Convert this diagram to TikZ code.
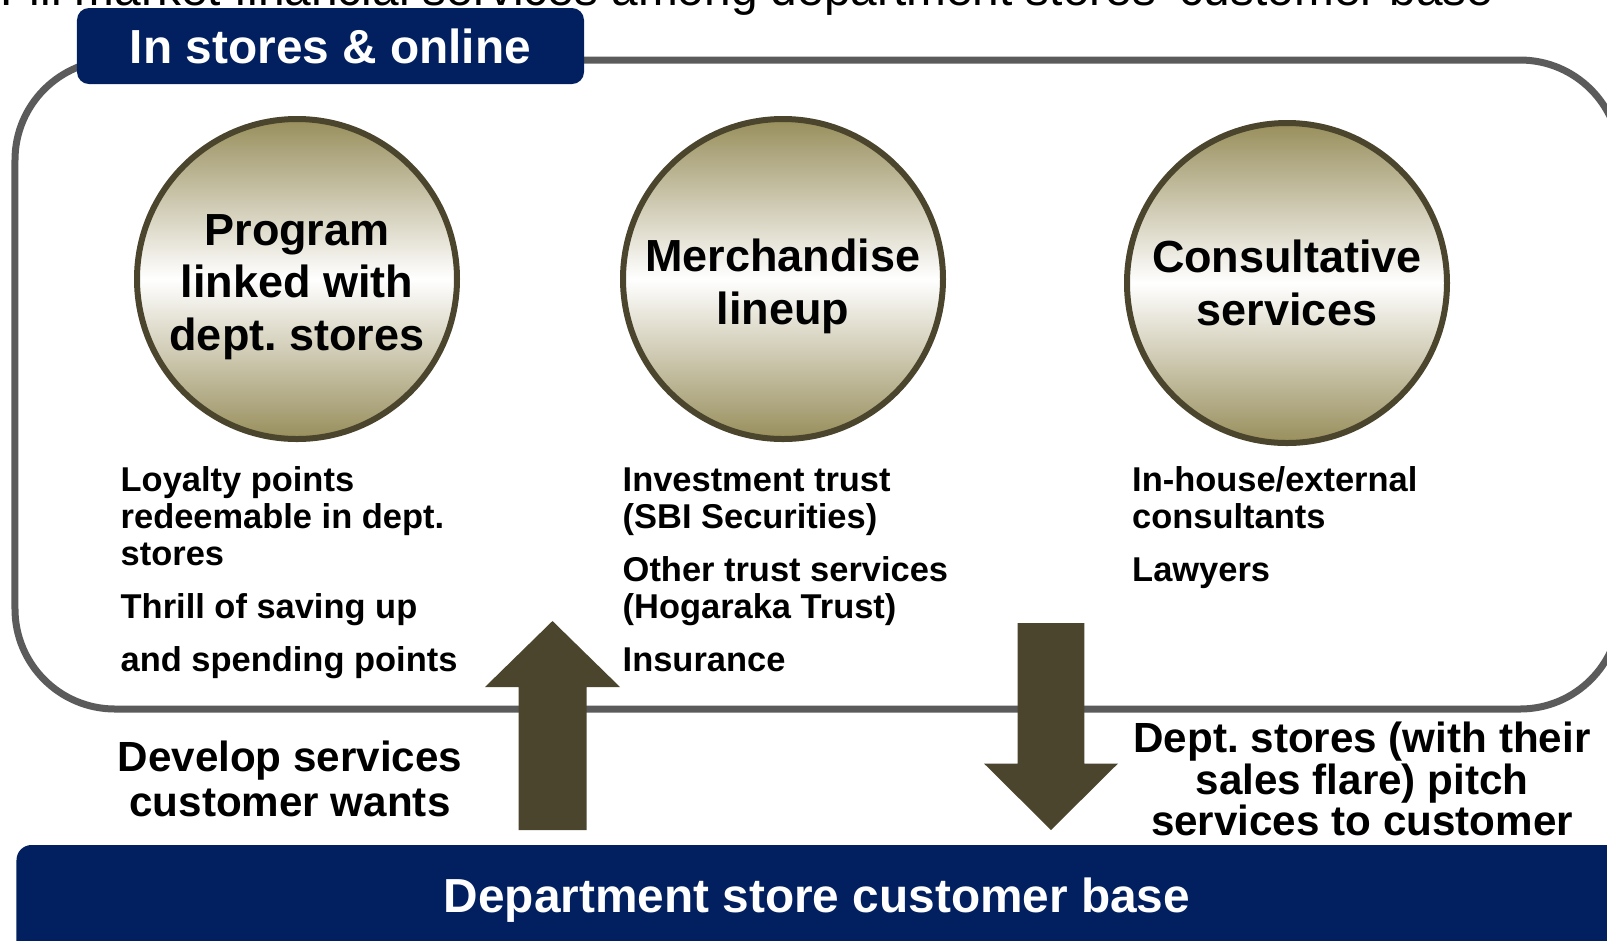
\documentclass[tikz,border=0pt]{standalone}
\usepackage{fontspec}
\setmainfont{Liberation Sans}
\usepackage{tikz}
\usetikzlibrary{positioning}
\frenchspacing

\definecolor{navy}{RGB}{2,32,96}
\definecolor{olivedark}{RGB}{74,69,44}
\definecolor{olivelight}{RGB}{152,142,92}
\definecolor{framegrey}{RGB}{91,91,91}

\tikzset{
  bubble/.style={circle, draw=olivedark, line width=0.6mm, minimum size=3.2cm,
    inner sep=0pt, top color=olivelight, bottom color=olivelight,
    middle color=white},
  bubbletext/.style={align=center, inner sep=0pt,
    font=\fontsize{12.8}{15}\selectfont\bfseries},
  % base anchor sits on the last line of a multi-line item
  item/.style={anchor=base west, align=left, inner sep=0pt,
    font=\fontsize{9.8}{10.6}\selectfont\bfseries},
  tab/.style={fill=navy, text=white, rounded corners=0.12cm, inner sep=0pt,
    font=\fontsize{13.6}{16}\selectfont\bfseries},
  note/.style={align=center, inner sep=0pt,
    font=\fontsize{12}{12.6}\selectfont\bfseries},
  blockarrow/.style={fill=olivedark}
}

\begin{document}
\begin{tikzpicture}[x=1cm,y=-1cm]
\useasboundingbox (0,0) rectangle (16.07,9.40);

% heading line, only its lower edge is on the page
\node[anchor=base west, inner sep=0pt, font=\fontsize{13.6}{16}\selectfont]
  (heading) at (0,0.055)
  {Fill market financial services among department stores' customer base};

% outer frame
\draw[framegrey, line width=0.7mm, rounded corners=1cm]
  (0.15,0.60) rectangle (16.2,7.09);

\node[tab, minimum width=5.07cm, minimum height=0.76cm]
  (online) at (3.305,0.46) {In stores \& online};

% the three circles
\node[bubble] (program) at (2.97,2.79) {};
\node[bubble] (lineup) at (7.83,2.79) {};
\node[bubble] (consult) at (12.87,2.83) {};
\node[bubbletext] (programtext) at (2.97,2.87) {Program\\linked with\\dept. stores};
\node[bubbletext] (lineuptext) at (7.83,2.86) {Merchandise\\lineup};
\node[bubbletext] (consulttext) at (12.87,2.83) {Consultative\\services};

% items under each circle
\node[item] (loyalty) at (1.20,5.658) {Loyalty points\\redeemable in dept.\\stores};
\node[item] (thrill) at (1.20,6.18) {Thrill of saving up};
\node[item] (spend) at (1.20,6.71) {and spending points};

\node[item] (invest) at (6.22,5.284) {Investment trust\\(SBI Securities)};
\node[item] (trust) at (6.22,6.184) {Other trust services\\(Hogaraka Trust)};
\node[item] (insure) at (6.22,6.71) {Insurance};

\node[item] (advisors) at (11.315,5.284) {In-house/external\\consultants};
\node[item] (lawyers) at (11.315,5.81) {Lawyers};

% block arrows between the base and the frame
\fill[blockarrow] (5.525,6.21) --++ (0.675,0.66) --++ (-0.335,0) --++ (0,1.43)
  --++ (-0.68,0) --++ (0,-1.43) --++ (-0.335,0) -- cycle;
\fill[blockarrow] (10.51,8.30) --++ (0.67,-0.665) --++ (-0.337,0) --++ (0,-1.405)
  --++ (-0.666,0) --++ (0,1.405) --++ (-0.337,0) -- cycle;

\node[note] (develop) at (2.90,7.79) {Develop services\\customer wants};
\node[note, font=\fontsize{12}{11.7}\selectfont\bfseries]
  (pitch) at (13.62,7.79) {Dept. stores (with their\\sales flare) pitch\\services to customer};

% customer base bar
\fill[navy, rounded corners=0.15cm] (0.165,8.45) rectangle (16.4,9.8);
\node[tab, fill=none] (custbase) at (8.17,9.00) {Department store customer base};
\end{tikzpicture}
\end{document}
